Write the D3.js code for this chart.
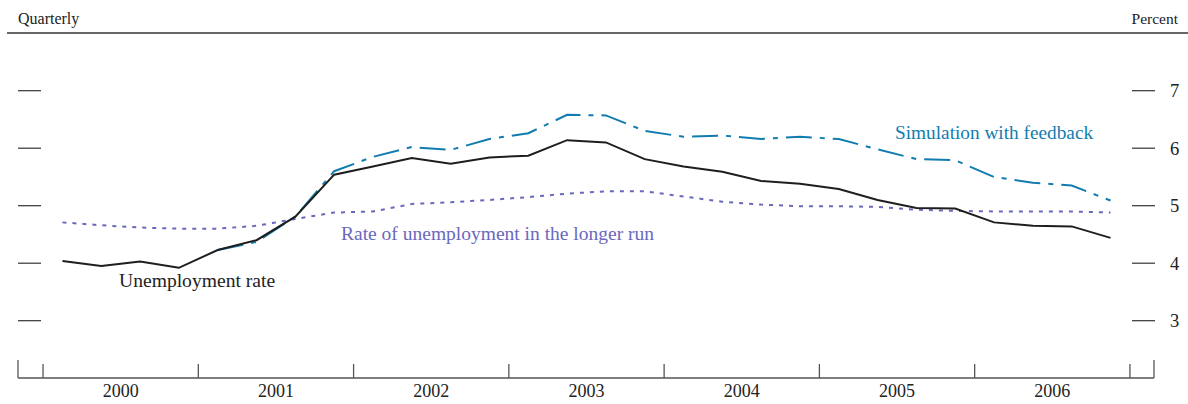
<!DOCTYPE html>
<html>
<head>
<meta charset="utf-8">
<script src="https://cdn.jsdelivr.net/npm/d3@7"></script>
<style>
  html, body { margin: 0; padding: 0; background: #fff; }
  svg { display: block; font-family: "Liberation Serif", "DejaVu Serif", serif; }
</style>
</head>
<body>
<div id="chart"></div>
<script>
const W = 1188, H = 404;

// Quarterly data, 2000:Q1 to 2006:Q4
const years = [2000, 2001, 2002, 2003, 2004, 2005, 2006];
const unemployment = [4.04, 3.95, 4.03, 3.92, 4.23, 4.40, 4.81, 5.54, 5.68, 5.83, 5.73, 5.84, 5.87, 6.14,
  6.10, 5.81, 5.68, 5.59, 5.43, 5.38, 5.29, 5.10, 4.96, 4.95, 4.71, 4.65, 4.64, 4.44];
// simulation starts in 2001:Q1 (index 4)
const simulation = [null, null, null, null, 4.23, 4.37, 4.81, 5.60, 5.85, 6.02, 5.97, 6.16, 6.26, 6.58,
  6.57, 6.30, 6.20, 6.22, 6.16, 6.20, 6.16, 5.98, 5.81, 5.79, 5.50, 5.40, 5.35, 5.09];
const longerRun = [4.71, 4.66, 4.62, 4.60, 4.60, 4.65, 4.77, 4.88, 4.90, 5.03, 5.06, 5.10, 5.15, 5.21,
  5.25, 5.25, 5.16, 5.07, 5.02, 4.99, 4.99, 4.98, 4.93, 4.91, 4.90, 4.90, 4.90, 4.88];
const yTicks = [3, 4, 5, 6, 7];

const svg = d3.select('#chart')
    .append('svg')
    .attr('width', W)
    .attr('height', H);

// scales: x in quarters from start of 2000
const x = d3.scaleLinear().domain([-0.645, 28.62]).range([18, 1154]);
const y = d3.scaleLinear().domain([3, 7]).range([320.7, 90.7]);

// header rule and labels
svg.append('line')
    .attr('x1', 7).attr('x2', W)
    .attr('y1', 33).attr('y2', 33)
    .attr('stroke', '#333').attr('stroke-width', 1.3);

svg.append('text')
    .attr('x', 18).attr('y', 24)
    .attr('font-size', 16).attr('fill', '#222')
    .text('Quarterly');

svg.append('text')
    .attr('x', 1178).attr('y', 24)
    .attr('text-anchor', 'end')
    .attr('font-size', 15.5).attr('fill', '#222')
    .text('Percent');

// y ticks, left and right
const tickG = svg.append('g');
tickG.selectAll('line.l')
    .data(yTicks)
    .enter().append('line')
    .attr('class', 'l')
    .attr('x1', 18).attr('x2', 41)
    .attr('y1', d => y(d)).attr('y2', d => y(d))
    .attr('stroke', '#333').attr('stroke-width', 1.2);

tickG.selectAll('line.r')
    .data(yTicks)
    .enter().append('line')
    .attr('class', 'r')
    .attr('x1', 1132).attr('x2', 1155)
    .attr('y1', d => y(d)).attr('y2', d => y(d))
    .attr('stroke', '#333').attr('stroke-width', 1.2);

tickG.selectAll('text')
    .data(yTicks)
    .enter().append('text')
    .attr('x', 1170)
    .attr('y', d => y(d) + 6.5)
    .attr('font-size', 18.5).attr('fill', '#222')
    .text(d => d);

// bottom axis
const axisY = 378;
svg.append('line')
    .attr('x1', x.range()[0]).attr('x2', x.range()[1])
    .attr('y1', axisY).attr('y2', axisY)
    .attr('stroke', '#555').attr('stroke-width', 1.3);

// end marks
svg.selectAll('line.end')
    .data(x.range())
    .enter().append('line')
    .attr('class', 'end')
    .attr('x1', d => d).attr('x2', d => d)
    .attr('y1', 360).attr('y2', axisY)
    .attr('stroke', '#555').attr('stroke-width', 1.3);

// year boundaries
const yearEdges = d3.range(years.length + 1).map(i => i * 4);
svg.selectAll('line.yr')
    .data(yearEdges)
    .enter().append('line')
    .attr('class', 'yr')
    .attr('x1', d => x(d)).attr('x2', d => x(d))
    .attr('y1', 364).attr('y2', axisY)
    .attr('stroke', '#555').attr('stroke-width', 1.3);

svg.selectAll('text.yr')
    .data(years)
    .enter().append('text')
    .attr('class', 'yr')
    .attr('x', (d, i) => x(i * 4 + 2))
    .attr('y', 397)
    .attr('text-anchor', 'middle')
    .attr('font-size', 18).attr('fill', '#222')
    .text(d => d);

// series lines
const line = d3.line()
    .defined(d => d != null)
    .x((d, i) => x(i + 0.5))
    .y(d => y(d));

svg.append('path')
    .datum(longerRun)
    .attr('d', line)
    .attr('fill', 'none')
    .attr('stroke', '#6a68bd')
    .attr('stroke-width', 2)
    .attr('stroke-dasharray', '4,6');

svg.append('path')
    .datum(simulation)
    .attr('d', line)
    .attr('fill', 'none')
    .attr('stroke', '#127cb0')
    .attr('stroke-width', 2)
    .attr('stroke-dasharray', '26,8,5,8');

svg.append('path')
    .datum(unemployment)
    .attr('d', line)
    .attr('fill', 'none')
    .attr('stroke', '#1e1e1e')
    .attr('stroke-width', 2);

// series labels
svg.append('text')
    .attr('x', 895).attr('y', 139)
    .attr('font-size', 19.3).attr('fill', '#127cb0')
    .text('Simulation with feedback');

svg.append('text')
    .attr('x', 341).attr('y', 240)
    .attr('font-size', 19.5).attr('fill', '#6a68bd')
    .text('Rate of unemployment in the longer run');

svg.append('text')
    .attr('x', 119).attr('y', 287)
    .attr('font-size', 19.6).attr('fill', '#222')
    .text('Unemployment rate');
</script>
</body>
</html>
